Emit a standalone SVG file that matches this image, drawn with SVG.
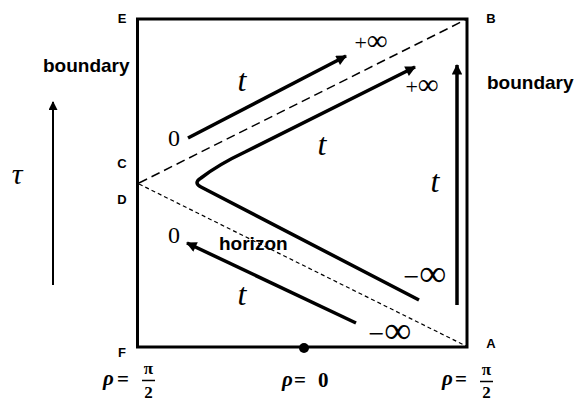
<svg xmlns="http://www.w3.org/2000/svg" width="577" height="402" viewBox="0 0 577 402">
<style>
.lbl{font-family:"Liberation Sans",Arial,sans-serif;font-weight:bold;font-size:13px;fill:#000;text-anchor:middle}
.word{font-family:"Liberation Sans",Arial,sans-serif;font-weight:bold;font-size:19px;fill:#000}
.mt{font-family:"Liberation Serif","Times New Roman",serif;font-style:italic;font-size:32px;fill:#000;text-anchor:middle}
.num{font-family:"Liberation Serif","Times New Roman",serif;font-size:24px;fill:#000;text-anchor:middle}
.inf{font-family:"Liberation Serif","Times New Roman",serif;font-size:22px;fill:#000;text-anchor:middle}
.ninf{font-family:"Liberation Serif","Times New Roman",serif;font-size:28px;fill:#000;text-anchor:middle}
.big{font-size:29px}
.bigger{font-size:38px}
.rho{font-family:"Liberation Serif","Times New Roman",serif;font-weight:bold;font-size:21px;fill:#000}
.frac{font-family:"Liberation Serif","Times New Roman",serif;font-weight:bold;font-size:17px;fill:#000;text-anchor:middle}
.arr{fill:none;stroke:#000;stroke-width:3.5;stroke-linecap:butt}
</style>
<defs>
<marker id="ah" viewBox="0 0 10 10" refX="9" refY="5" markerWidth="3.2" markerHeight="3" orient="auto" markerUnits="strokeWidth">
<path d="M0,0 L10,5 L0,10 z" fill="#000"/>
</marker>
<marker id="ah2" viewBox="0 0 10 10" refX="9" refY="5" markerWidth="5" markerHeight="4.5" orient="auto" markerUnits="strokeWidth">
<path d="M0,0 L10,5 L0,10 z" fill="#000"/>
</marker>
</defs>
<g id="frame">
<rect x="137.5" y="19" width="329.5" height="328" fill="none" stroke="#000" stroke-width="3"/>
</g>
<g id="connectors">
<line x1="139" y1="183" x2="467" y2="19" stroke="#000" stroke-width="1.5" stroke-dasharray="9,5"/>
<line x1="139" y1="184" x2="466" y2="346" stroke="#000" stroke-width="1.2" stroke-dasharray="4,3"/>
<line class="arr" x1="188" y1="138" x2="346" y2="56" marker-end="url(#ah)"/>
<path class="arr" d="M419,300 L201,187 Q193,183 201,178 C214,168 228,160 245,152 L415,67" marker-end="url(#ah)"/>
<line class="arr" x1="457" y1="305" x2="457" y2="65" marker-end="url(#ah)"/>
<line class="arr" x1="356" y1="323" x2="187" y2="243" marker-end="url(#ah)"/>
<line x1="53" y1="285" x2="53" y2="102" stroke="#000" stroke-width="2" marker-end="url(#ah2)"/>
<circle cx="304" cy="348" r="5" fill="#000"/>
</g>
<g id="corner-labels">
<text class="lbl" x="122" y="23">E</text>
<text class="lbl" x="491" y="23">B</text>
<text class="lbl" x="122" y="168">C</text>
<text class="lbl" x="122" y="204">D</text>
<text class="lbl" x="122" y="357">F</text>
<text class="lbl" x="491" y="348">A</text>
</g>
<g id="words">
<text class="word" x="43" y="72">boundary</text>
<text class="word" x="487" y="89">boundary</text>
<text class="word" x="219" y="250">horizon</text>
</g>
<g id="math">
<text class="mt" x="17" y="184" style="font-size:30px">τ</text>
<text class="mt" x="242" y="91">t</text>
<text class="mt" x="322" y="155">t</text>
<text class="mt" x="435" y="192">t</text>
<text class="mt" x="242" y="305">t</text>
<text class="num" x="174" y="146">0</text>
<text class="num" x="174" y="243">0</text>
<text class="inf" x="371" y="50">+<tspan class="big">∞</tspan></text>
<text class="inf" x="422" y="94">+<tspan class="big">∞</tspan></text>
<text class="ninf" x="425" y="286">−<tspan class="bigger">∞</tspan></text>
<text class="ninf" x="390" y="343">−<tspan class="bigger">∞</tspan></text>
</g>
<g id="axis-labels">
<text class="rho" x="103" y="385" font-style="italic">ρ</text>
<text class="rho" x="117" y="386" font-size="23">=</text>
<line x1="142" y1="380.5" x2="155" y2="380.5" stroke="#000" stroke-width="1.5"/>
<text class="frac" x="148.5" y="374">π</text>
<text class="frac" x="148.5" y="398" font-size="16">2</text>
<text class="rho" x="282" y="386" font-style="italic">ρ</text>
<text class="rho" x="294" y="387" font-size="23">=</text>
<text class="rho" x="318" y="387">0</text>
<text class="rho" x="442" y="385" font-style="italic">ρ</text>
<text class="rho" x="455" y="386" font-size="23">=</text>
<line x1="480" y1="381.5" x2="493" y2="381.5" stroke="#000" stroke-width="1.5"/>
<text class="frac" x="486.5" y="375">π</text>
<text class="frac" x="486.5" y="398" font-size="16">2</text>
</g>
</svg>
